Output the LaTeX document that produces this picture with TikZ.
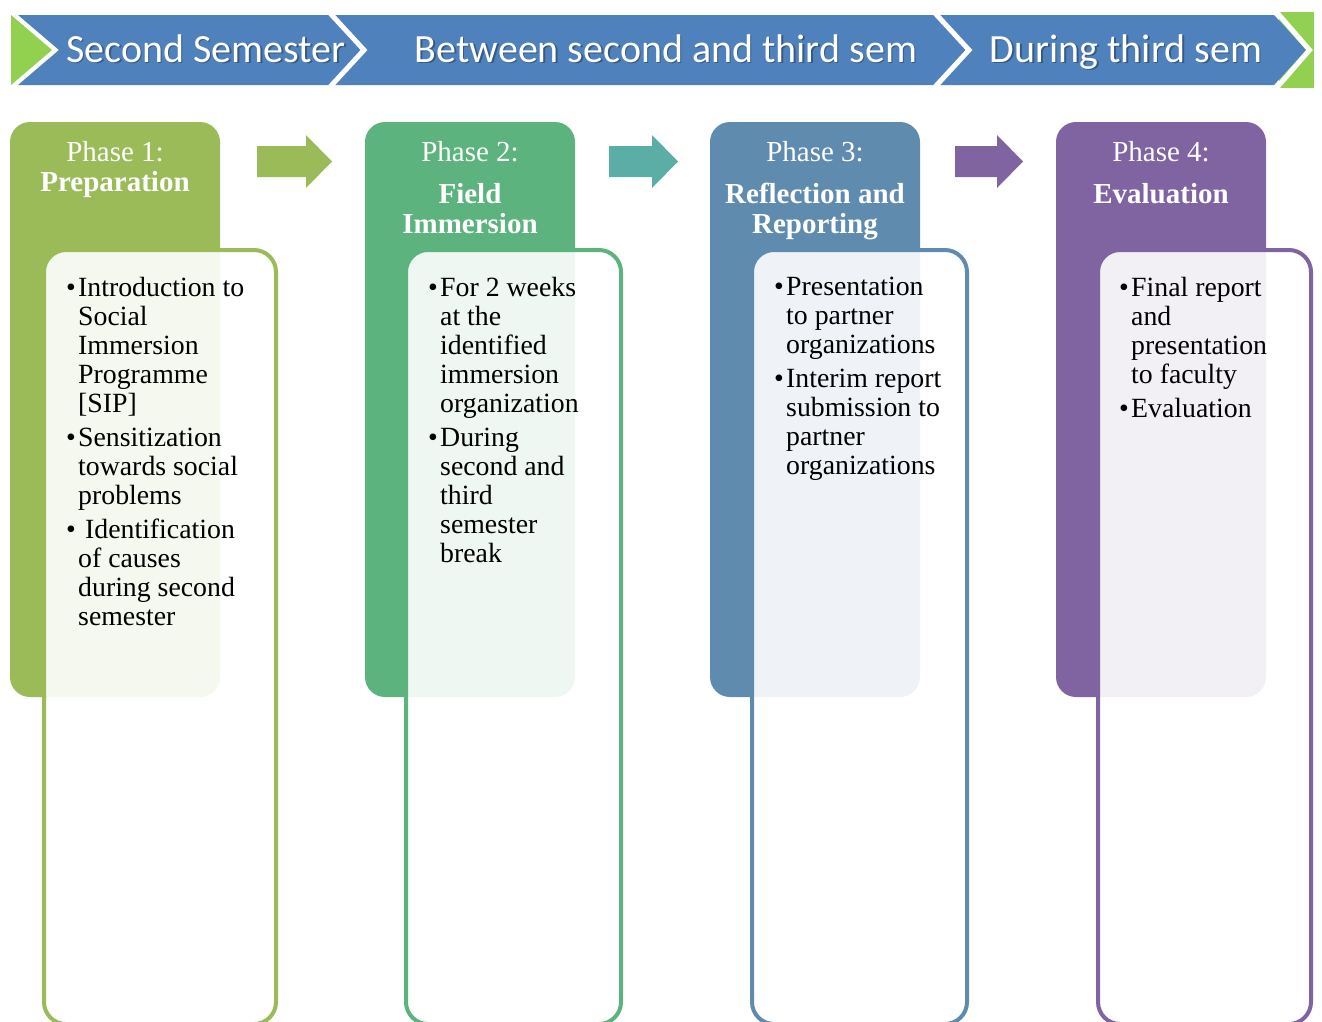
\documentclass[tikz,border=0pt]{standalone}
\usepackage{fontspec}
\setmainfont{Liberation Serif}
\newfontfamily\bannerfont{Carlito}
\usetikzlibrary{positioning}

\definecolor{bannerblue}{HTML}{4F81BD}
\definecolor{bannergreen}{HTML}{92D050}
\definecolor{phaseone}{HTML}{9BBB59}
\definecolor{phasetwo}{HTML}{5CB37D}
\definecolor{phasethree}{HTML}{5F8CAE}
\definecolor{phasefour}{HTML}{8064A2}
\definecolor{arrowtwo}{HTML}{5BAEA5}

\newcommand{\bul}[1]{\makebox[12pt][l]{\textbullet}#1}
\newcommand{\cnt}[1]{\hspace*{12pt}#1}

\begin{document}
\begin{tikzpicture}[x=1pt,y=-1pt,
    bannertext/.style={white, font=\bannerfont\fontsize{40}{48}\selectfont, inner sep=0pt, anchor=base},
    bannershadow/.style={bannertext, black, text opacity=0.3},
    phasebox/.style={rectangle, rounded corners=20pt, minimum width=210pt, minimum height=575pt, inner sep=0pt},
    innerbox/.style={rectangle, rounded corners=22pt, line width=4pt, fill=white, fill opacity=0.9, minimum height=774pt, inner sep=0pt},
    heading/.style={white, align=center, inner sep=0pt, anchor=north, font=\fontsize{29}{30}\selectfont},
    bodytext/.style={black, align=left, inner sep=0pt, anchor=north west, font=\fontsize{27.8}{29}\selectfont}]

  \useasboundingbox (0,0) rectangle (1322,1021);
  \clip (0,0) rectangle (1322,1021);

  % banner
  \fill[bannergreen] (1279,12) rectangle (1314,88);
  \fill[bannerblue] (18,15) -- (1274,15) -- (1306,50) -- (1274,85) -- (18,85) -- (59,50) -- cycle;
  \fill[bannergreen] (11,15) -- (52,50) -- (11,85) -- cycle;
  \draw[white, line width=5pt] (1276.5,12) -- (1309.5,50) -- (1276.5,88);
  \draw[white, line width=5pt] (329,12) -- (364,50) -- (329,88);
  \draw[white, line width=5pt] (934,12) -- (969,50) -- (934,88);

  \node[bannershadow] (s1) at (207.5,63.5) {Second Semester};
  \node[bannershadow] (s2) at (667.5,63.5) {Between second and third sem};
  \node[bannershadow] (s3) at (1127.5,63.5) {During third sem};
  \node[bannertext] (n1) at (206,62) {Second Semester};
  \node[bannertext] (n2) at (666,62) {Between second and third sem};
  \node[bannertext] (n3) at (1126,62) {During third sem};

  % arrows between phases
  \foreach \xa/\xb/\col in {257/332/phaseone, 609/678/arrowtwo, 955/1023/phasefour}
    \fill[\col] (\xa,146) -- (\xb-26,146) -- (\xb-26,135) -- (\xb,161.5) -- (\xb-26,188) -- (\xb-26,177) -- (\xa,177) -- cycle;

  % phase boxes
  \node[phasebox, fill=phaseone] (p1) at (115,409.5) {};
  \node[phasebox, fill=phasetwo] (p2) at (470,409.5) {};
  \node[phasebox, fill=phasethree] (p3) at (815,409.5) {};
  \node[phasebox, fill=phasefour] (p4) at (1161,409.5) {};

  \node[heading, below=19pt of p1.north] (h1) {Phase 1:\\ \textbf{Preparation}};
  \node[heading, below=19pt of p2.north] (h2) {Phase 2:\\[12pt] \textbf{Field}\\ \textbf{Immersion}};
  \node[heading, below=19pt of p3.north] (h3) {Phase 3:\\[12pt] \textbf{Reflection and}\\ \textbf{Reporting}};
  \node[heading, below=19pt of p4.north] (h4) {Phase 4:\\[12pt] \textbf{Evaluation}};

  % detail boxes
  \node[innerbox, draw=phaseone, minimum width=232pt] (b1) at (160,637) {};
  \node[innerbox, draw=phasetwo, minimum width=215pt] (b2) at (513.5,637) {};
  \node[innerbox, draw=phasethree, minimum width=215pt] (b3) at (859.5,637) {};
  \node[innerbox, draw=phasefour, minimum width=213pt] (b4) at (1204.5,637) {};

  \node[bodytext, below right=29pt and 24pt of b1.north west] (t1) {\bul{Introduction to}\\ \cnt{Social}\\ \cnt{Immersion}\\ \cnt{Programme}\\ \cnt{[SIP]}\\[5pt]
    \bul{Sensitization}\\ \cnt{towards social}\\ \cnt{problems}\\[5pt]
    \bul{~Identification}\\ \cnt{of causes}\\ \cnt{during second}\\ \cnt{semester}};
  \node[bodytext, below right=29pt and 24pt of b2.north west] (t2) {\bul{For 2 weeks}\\ \cnt{at the}\\ \cnt{identified}\\ \cnt{immersion}\\ \cnt{organization}\\[5pt]
    \bul{During}\\ \cnt{second and}\\ \cnt{third}\\ \cnt{semester}\\ \cnt{break}};
  \node[bodytext, below right=29pt and 24pt of b3.north west] (t3) {\bul{Presentation}\\ \cnt{to partner}\\ \cnt{organizations}\\[5pt]
    \bul{Interim report}\\ \cnt{submission to}\\ \cnt{partner}\\ \cnt{organizations}};
  \node[bodytext, below right=29pt and 23pt of b4.north west] (t4) {\bul{Final report}\\ \cnt{and}\\ \cnt{presentation}\\ \cnt{to faculty}\\[5pt]
    \bul{Evaluation}};

\end{tikzpicture}
\end{document}
